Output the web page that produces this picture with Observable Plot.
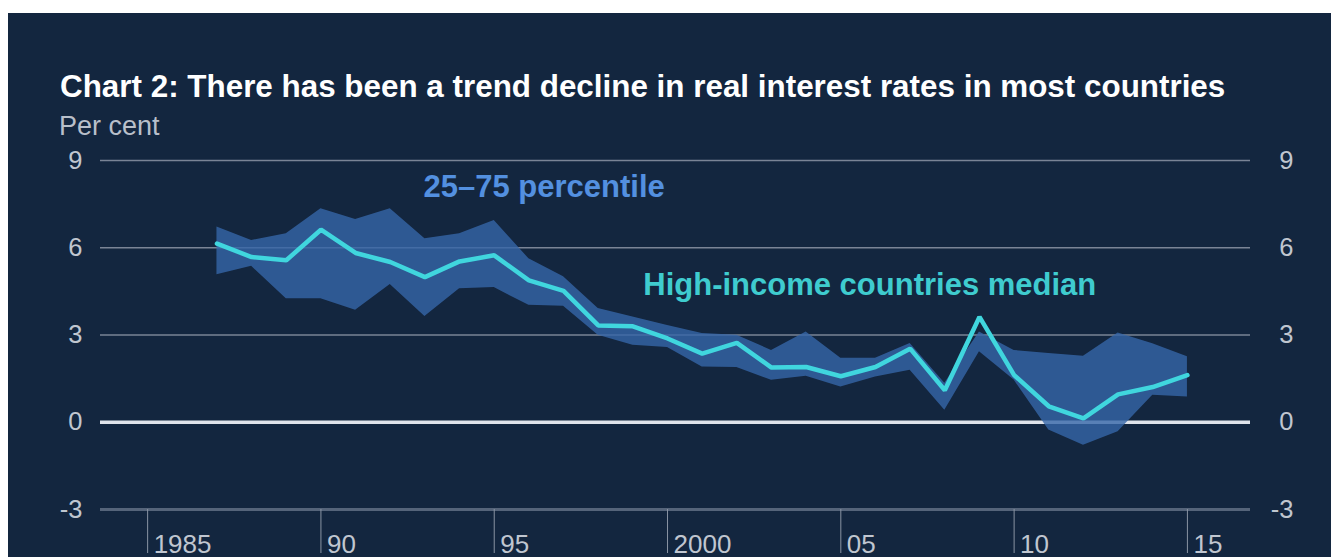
<!DOCTYPE html>
<html>
<head>
<meta charset="utf-8">
<script src="https://cdn.jsdelivr.net/npm/d3@7"></script>
<script src="https://cdn.jsdelivr.net/npm/@observablehq/plot@0.6"></script>
<style>
  html, body { margin: 0; padding: 0; background: #ffffff; width: 1331px; height: 557px; overflow: hidden; }
  body { position: relative; font-family: "Liberation Sans", Arial, sans-serif; }
  #panel { position: absolute; left: 8px; top: 13px; width: 1323px; height: 544px; background: #13263f; }
  #title { position: absolute; left: 60px; top: 71px; margin: 0; font-size: 31.4px; line-height: 31px; font-weight: bold; color: #ffffff; white-space: nowrap; }
  #unit { position: absolute; left: 59px; top: 113px; font-size: 27px; line-height: 27px; color: #b8bfca; white-space: nowrap; }
  #chart { position: absolute; left: 0; top: 140px; }
</style>
</head>
<body>
<div id="panel"></div>
<h2 id="title">Chart 2: There has been a trend decline in real interest rates in most countries</h2>
<div id="unit">Per cent</div>
<div id="chart"></div>
<script>
const years = [1987,1988,1989,1990,1991,1992,1993,1994,1995,1996,1997,1998,1999,2000,2001,2002,2003,2004,2005,2006,2007,2008,2009,2010,2011,2012,2013,2014,2015];
const median = [6.14,5.68,5.57,6.62,5.82,5.51,4.99,5.53,5.74,4.88,4.52,3.33,3.30,2.88,2.36,2.73,1.88,1.90,1.58,1.90,2.53,1.10,3.62,1.62,0.55,0.13,0.96,1.21,1.62];
const p75 = [6.71,6.25,6.48,7.34,6.97,7.34,6.31,6.48,6.94,5.62,5.00,3.91,3.62,3.33,3.05,2.99,2.47,3.10,2.20,2.20,2.71,1.34,3.10,2.47,2.36,2.27,3.07,2.70,2.25];
const p25 = [5.07,5.36,4.25,4.25,3.85,4.74,3.64,4.59,4.63,4.02,3.99,2.99,2.65,2.57,1.90,1.88,1.44,1.58,1.21,1.56,1.79,0.41,2.42,1.45,-0.27,-0.79,-0.33,0.93,0.87];
const xTickYears = [1985,1990,1995,2000,2005,2010,2015];
const xTickLabels = ["1985","90","95","2000","05","10","15"];
const yTicks = [9,6,3,0,-3];
const annotations = [
  {label: "25–75 percentile", year: 1992.96, value: 7.75, series: "band"},
  {label: "High-income countries median", year: 1999.30, value: 4.37, series: "median"}
];

const data = years.map((year, i) => ({year, median: median[i], p25: p25[i], p75: p75[i]}));
const font = '"Liberation Sans", Arial, sans-serif';

const chart = Plot.plot({
  width: 1331,
  height: 417,
  marginTop: 20,
  marginBottom: 48,
  marginLeft: 100,
  marginRight: 81,
  style: {background: "transparent", fontFamily: font, color: "#c0c6d0", overflow: "visible"},
  x: {domain: [1983.64, 2016.82]},
  y: {domain: [-3, 9]},
  marks: [
    Plot.ruleY([9, 6, 3], {stroke: "#7a8496", strokeWidth: 1.5}),
    Plot.ruleY([0], {stroke: "#dfe3ea", strokeWidth: 3.5}),
    Plot.ruleY([-3], {stroke: "#55647a", strokeWidth: 3}),
    Plot.areaY(data, {x: "year", y1: "p25", y2: "p75", fill: "#3667a9", fillOpacity: 0.8}),
    Plot.lineY(data, {x: "year", y: "median", stroke: "#40d6de", strokeWidth: 4.5, strokeLinejoin: "miter"}),
    Plot.text(annotations, {
      x: "year", y: "value", text: "label",
      textAnchor: "start", lineAnchor: "bottom",
      fontSize: 31, fontWeight: "bold",
      fill: d => d.series === "band" ? "#5390e0" : "#3fcccf"
    }),
    Plot.axisY({anchor: "left", ticks: yTicks, tickSize: 0, tickPadding: 18, tickFormat: d => String(d), fontSize: 25.5, fill: "#c0c6d0", label: null}),
    Plot.axisY({anchor: "right", ticks: yTicks, tickSize: 0, tickPadding: 43, textAnchor: "end", tickFormat: d => String(d), fontSize: 25.5, fill: "#c0c6d0", label: null}),
    Plot.axisX({ticks: xTickYears, tickSize: 44, fill: "none", stroke: "#8a94a3", strokeWidth: 1, label: null}),
    Plot.axisX({ticks: xTickYears, tickSize: 0, tickPadding: 25, textAnchor: "start", dx: 6,
      tickFormat: (d) => xTickLabels[xTickYears.indexOf(d)], fontSize: 26, fill: "#c0c6d0", label: null})
  ]
});
document.getElementById("chart").appendChild(chart);
</script>
</body>
</html>
